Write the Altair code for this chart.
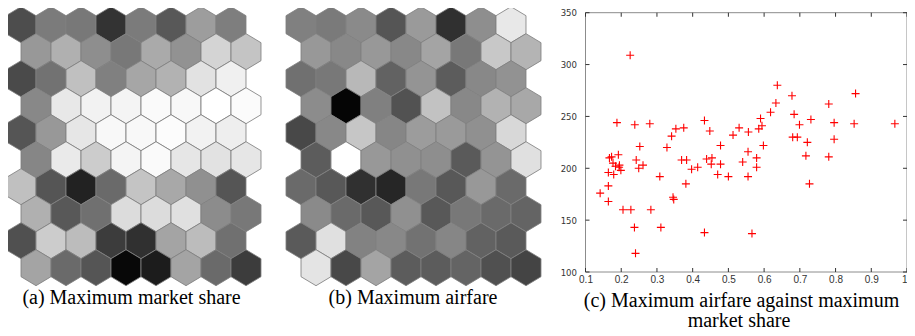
import altair as alt
import pandas as pd

# ---- SOM map (a): maximum market share, gray level per hexagon (0 = black, 255 = white)
MAP_A = [
    [77, 123, 120, 51, 123, 88, 157, 126],
    [152, 176, 142, 120, 170, 146, 212, 196],
    [74, 114, 192, 128, 166, 178, 226, 240],
    [136, 232, 242, 244, 250, 248, 255, 251],
    [85, 152, 230, 248, 248, 252, 242, 238],
    [134, 234, 204, 244, 250, 230, 226, 230],
    [192, 85, 34, 106, 196, 168, 144, 85],
    [176, 88, 112, 220, 220, 224, 140, 120],
    [80, 204, 188, 60, 48, 164, 188, 112],
    [164, 106, 85, 8, 28, 164, 106, 60],
]
# ---- SOM map (b): maximum airfare
MAP_B = [
    [128, 122, 138, 85, 154, 48, 142, 232],
    [152, 136, 152, 136, 164, 120, 200, 180],
    [112, 120, 184, 98, 148, 92, 136, 146],
    [140, 5, 128, 82, 194, 136, 178, 168],
    [72, 136, 198, 134, 156, 154, 144, 216],
    [92, 255, 152, 144, 142, 90, 148, 224],
    [106, 88, 48, 38, 120, 88, 152, 106],
    [138, 106, 88, 144, 88, 120, 106, 100],
    [90, 224, 130, 136, 114, 134, 98, 90],
    [228, 72, 164, 92, 92, 100, 80, 68],
]

# ---- scatter (c)
SHARE = [0.141, 0.164, 0.164, 0.164, 0.167, 0.173, 0.177, 0.179, 0.184, 0.188,
         0.192, 0.195, 0.199, 0.194, 0.205, 0.225, 0.227, 0.237, 0.240, 0.238,
         0.242, 0.249, 0.252, 0.261, 0.280, 0.283, 0.308, 0.311, 0.328, 0.341,
         0.345, 0.347, 0.353, 0.369, 0.375, 0.383, 0.381, 0.397, 0.414, 0.433,
         0.433, 0.439, 0.448, 0.452, 0.454, 0.470, 0.478, 0.478, 0.500, 0.513,
         0.530, 0.540, 0.555, 0.556, 0.555, 0.566, 0.579, 0.579, 0.585, 0.590,
         0.594, 0.598, 0.618, 0.633, 0.637, 0.678, 0.680, 0.684, 0.693, 0.699,
         0.717, 0.721, 0.727, 0.731, 0.781, 0.781, 0.796, 0.796, 0.852, 0.856,
         0.966]
FARE = [176, 183, 168, 196, 210, 211, 205, 194, 202, 244,
        213, 203, 198, 201, 160, 309, 160, 143, 118, 242,
        208, 200, 221, 203, 243, 160, 192, 143, 220, 231,
        172, 170, 238, 208, 239, 208, 185, 199, 201, 246,
        138, 209, 236, 204, 210, 194, 222, 204, 192, 232,
        239, 206, 216, 235, 192, 137, 210, 201, 238, 248,
        241, 222, 254, 263, 280, 270, 230, 252, 230, 242,
        212, 225, 185, 247, 262, 211, 244, 228, 243, 272,
        243]

X_TICKS = [0.1, 0.2, 0.3, 0.4, 0.5, 0.6, 0.7, 0.8, 0.9, 1.0]
Y_TICKS = [100, 150, 200, 250, 300, 350]
X_DOMAIN = [0.1, 1.0]
Y_DOMAIN = [100, 350]

CAPTION_A = "(a) Maximum market share"
CAPTION_B = "(b) Maximum airfare"
CAPTION_C = ["(c) Maximum airfare against maximum", "market share"]


def hex_frame(grid):
    rows = []
    for r, line in enumerate(grid):
        for c, v in enumerate(line):
            rows.append({"u": c + 0.5 * (r % 2), "row": r, "v": v})
    return pd.DataFrame(rows)


HEX_PATH = "M0,-1L0.8333,-0.5L0.8333,0.5L0,1L-0.8333,0.5L-0.8333,-0.5Z"
gray = alt.Scale(domain=[0, 255], range=["#000000", "#ffffff"], interpolate="rgb")


def hex_map(grid, x_range):
    return alt.Chart(hex_frame(grid)).mark_point(
        shape=HEX_PATH, filled=True, size=1296, opacity=1,
        stroke="#808080", strokeWidth=1, strokeOpacity=0.85,
    ).encode(
        x=alt.X("u:Q", scale=alt.Scale(domain=[0, 7.5], range=x_range, nice=False, zero=False), axis=None),
        y=alt.Y("row:Q", scale=alt.Scale(domain=[0, 9], range=[16.7, 259.7], nice=False, zero=False), axis=None),
        fill=alt.Fill("v:Q", scale=gray, legend=None),
    )


map_a = hex_map(MAP_A, [13, 238])
map_b = hex_map(MAP_B, [293, 518])

xs = alt.Scale(domain=X_DOMAIN, range=[577.5, 899], nice=False, zero=False)
ys = alt.Scale(domain=Y_DOMAIN, range=[264, 4.7], nice=False, zero=False)

x_axis = alt.Axis(
    orient="bottom", offset=-63, values=X_TICKS, format="~g", domain=False,
    ticks=False, grid=False, title=None, labelPadding=2, labelFont="Liberation Sans",
    labelFontSize=10, labelColor="#333333", labelFlush=False, labelOverlap=False,
    labelAlign={"condition": {"test": "datum.value >= 1", "value": "right"}, "value": "center"})
y_axis = alt.Axis(
    orient="left", offset=-577.5, values=Y_TICKS, format="d", domain=False,
    ticks=False, grid=False, title=None, labelPadding=9,
    labelFont="Liberation Sans Narrow, DejaVu Sans Condensed, Liberation Sans",
    labelFontSize=9.5, labelColor="#333333", labelFlush=False, labelOverlap=False)

pts = alt.Chart(pd.DataFrame({"share": SHARE, "fare": FARE})).mark_point(
    shape="M-1,0L1,0M0,-1L0,1", filled=False, size=64, color="#ff0000",
    strokeWidth=1.1, opacity=1,
).encode(
    x=alt.X("share:Q", scale=xs, axis=x_axis),
    y=alt.Y("fare:Q", scale=ys, axis=y_axis),
)

frame = alt.Chart(pd.DataFrame({"x0": [X_DOMAIN[0]], "x1": [X_DOMAIN[1]],
                                "y0": [Y_DOMAIN[0]], "y1": [Y_DOMAIN[1]]})).mark_rect(
    fillOpacity=0, stroke="#8c8c8c", strokeWidth=1,
).encode(
    x=alt.X("x0:Q", scale=xs, axis=x_axis), x2="x1:Q",
    y=alt.Y("y0:Q", scale=ys, axis=y_axis), y2="y1:Q",
)

xt = pd.DataFrame({"t": X_TICKS})
xt["lo"] = Y_DOMAIN[0]
xt["hi"] = Y_DOMAIN[1]
yt = pd.DataFrame({"t": Y_TICKS})
yt["lo"] = X_DOMAIN[0]
yt["hi"] = X_DOMAIN[1]

tick_style = dict(size=4, thickness=1, color="#333333", opacity=1)
ticks_bottom = alt.Chart(xt).mark_tick(orient="vertical", yOffset=-2, **tick_style).encode(
    x=alt.X("t:Q", scale=xs, axis=x_axis), y=alt.Y("lo:Q", scale=ys, axis=y_axis))
ticks_top = alt.Chart(xt).mark_tick(orient="vertical", yOffset=2, **tick_style).encode(
    x=alt.X("t:Q", scale=xs, axis=x_axis), y=alt.Y("hi:Q", scale=ys, axis=y_axis))
ticks_left = alt.Chart(yt).mark_tick(orient="horizontal", xOffset=2, **tick_style).encode(
    y=alt.Y("t:Q", scale=ys, axis=y_axis), x=alt.X("lo:Q", scale=xs, axis=x_axis))
ticks_right = alt.Chart(yt).mark_tick(orient="horizontal", xOffset=-2, **tick_style).encode(
    y=alt.Y("t:Q", scale=ys, axis=y_axis), x=alt.X("hi:Q", scale=xs, axis=x_axis))

scatter = alt.layer(frame, ticks_bottom, ticks_top, ticks_left, ticks_right, pts)

cap_style = dict(font="Liberation Serif", fontSize=20, color="#000000",
                 align="center", baseline="alphabetic")


def caption(text, px, py):
    return alt.Chart(pd.DataFrame({"t": [text]})).mark_text(**cap_style).encode(
        text="t:N", x=alt.value(px), y=alt.value(py))


captions = alt.layer(
    caption(CAPTION_A, 123.5, 295.5),
    caption(CAPTION_B, 405, 295.5),
    caption(CAPTION_C[0], 733.5, 298.5),
    caption(CAPTION_C[1], 731, 318.7),
)

chart = alt.layer(map_a, map_b, scatter, captions).resolve_scale(
    x="independent", y="independent"
).properties(
    width=899, height=327, padding=0,
    autosize=alt.AutoSizeParams(type="none"),
).configure_view(strokeWidth=0)

chart.save("out.html", embed_options={"renderer": "svg", "actions": False})
